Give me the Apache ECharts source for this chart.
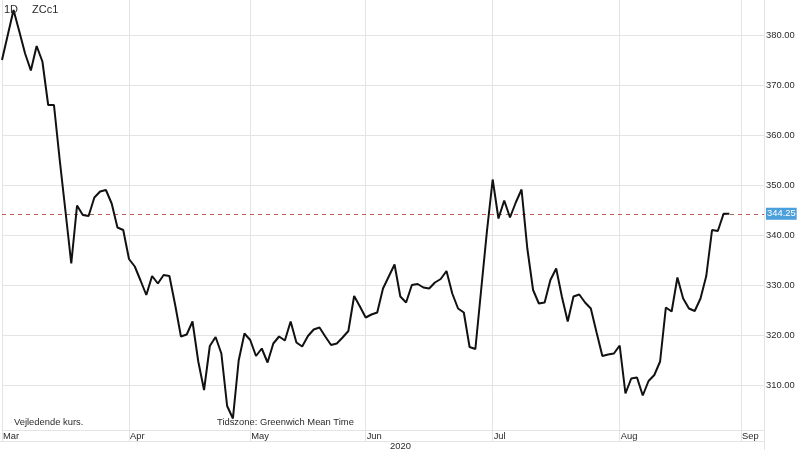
<!DOCTYPE html>
<html>
<head>
<meta charset="utf-8">
<script src="https://cdn.jsdelivr.net/npm/echarts@6/dist/echarts.min.js"></script>
<style>
html,body{margin:0;padding:0;background:#fff;}
#chart{width:800px;height:450px;}
</style>
</head>
<body>
<div id="chart"></div>
<script>
// ---- data ----
const periodLabel = '1D';
const symbolName = 'ZCc1';
const yearLabel = '2020';
const noteLeft = 'Vejledende kurs.';
const noteTimezone = 'Tidszone: Greenwich Mean Time';
const monthLabels = ['Jan','Feb','Mar','Apr','May','Jun','Jul','Aug','Sep','Oct','Nov','Dec'];
const firstTradingDay = '2020-03-02';
const tradingDayCount = 133;
const holidays = ['2020-04-10','2020-05-25','2020-07-03','2020-09-07'];
const lastPrice = 344.25;
const closes = [
  375.0, 380.0, 385.0, 380.7, 376.3, 372.9, 377.8, 374.7, 366.0, 366.0,
  355.0, 344.7, 334.3, 345.9, 344.0, 343.8, 347.5, 348.7, 349.0, 346.3,
  341.5, 341.0, 335.2, 333.7, 330.9, 328.0, 331.8, 330.3, 332.0, 331.8,
  326.0, 319.7, 320.1, 322.7, 314.7, 309.0, 317.8, 319.6, 316.3, 305.8,
  303.3, 314.9, 320.3, 319.0, 315.8, 317.3, 314.5, 318.3, 319.7, 318.9,
  322.7, 318.5, 317.7, 319.8, 321.1, 321.5, 319.7, 318.0, 318.3, 319.5,
  320.8, 327.8, 325.7, 323.5, 324.1, 324.5, 329.3, 331.7, 334.1, 327.7,
  326.5, 330.0, 330.2, 329.5, 329.3, 330.5, 331.2, 332.8, 328.3, 325.3,
  324.5, 317.6, 317.2, 329.0, 340.7, 351.1, 343.3, 346.9, 343.5, 346.5,
  349.1, 337.3, 329.0, 326.3, 326.5, 331.0, 333.3, 327.6, 322.7, 327.7,
  328.1, 326.5, 325.3, 320.5, 315.8, 316.1, 316.3, 317.9, 308.3, 311.3,
  311.5, 307.9, 310.8, 312.0, 314.7, 325.5, 324.7, 331.5, 327.3, 325.3,
  324.8, 327.3, 331.8, 341.0, 340.8, 344.25, 344.25
];

// ---- trading-day calendar (categories) ----
const dates = [];
(function () {
  const d = new Date(firstTradingDay + 'T00:00:00Z');
  while (dates.length < tradingDayCount) {
    const wd = d.getUTCDay();
    const s = d.toISOString().slice(0, 10);
    if (wd !== 0 && wd !== 6 && holidays.indexOf(s) < 0) dates.push(s);
    d.setUTCDate(d.getUTCDate() + 1);
  }
})();
const monthStart = new Set();
dates.forEach((s, i) => {
  if (i === 0 || s.slice(5, 7) !== dates[i - 1].slice(5, 7)) monthStart.add(i);
});
const isMonthStart = (i) => monthStart.has(i);

const FONT = "'Liberation Sans', Arial, Helvetica, sans-serif";
const GRID = '#e4e4e4';
const TXT = '#2a2a2a';
const FS = 9.4;

const chart = echarts.init(document.getElementById('chart'), null, {renderer: 'canvas'});
chart.setOption({
  animation: false,
  backgroundColor: '#fff',
  textStyle: {fontFamily: FONT},
  grid: {left: 0, right: 36, top: 0, bottom: 20, containLabel: false},
  xAxis: {
    type: 'category',
    data: dates,
    boundaryGap: false,
    axisLine: {show: true, lineStyle: {color: GRID, width: 1}},
    axisTick: {show: true, length: 11, interval: isMonthStart, lineStyle: {color: GRID}},
    axisLabel: {
      interval: isMonthStart,
      formatter: (v) => monthLabels[parseInt(v.slice(5, 7), 10) - 1],
      align: 'left',
      margin: 2,
      padding: [0, 0, 0, 1],
      fontSize: FS,
      color: TXT,
      fontFamily: FONT
    },
    splitLine: {show: true, interval: isMonthStart, lineStyle: {color: GRID, width: 1}}
  },
  yAxis: {
    type: 'value',
    position: 'right',
    min: 301,
    max: 387,
    splitNumber: 8,
    axisLine: {show: false},
    axisTick: {show: false},
    axisLabel: {
      margin: 2,
      fontSize: FS,
      color: TXT,
      fontFamily: FONT,
      formatter: (v) => (Math.abs(v % 10) < 1e-6 ? v.toFixed(2) : '')
    },
    splitLine: {show: true, showMinLine: false, showMaxLine: false, lineStyle: {color: GRID, width: 1}}
  },
  series: [{
    type: 'line',
    data: closes,
    symbol: 'none',
    showSymbol: false,
    lineStyle: {color: '#111', width: 2},
    itemStyle: {color: '#111'},
    z: 5,
    markLine: {
      silent: true,
      symbol: 'none',
      data: [{yAxis: lastPrice}],
      lineStyle: {color: '#b8605a', type: [4, 4], width: 1},
      label: {
        position: 'end',
        distance: 2,
        formatter: (p) => Number(p.value).toFixed(2),
        backgroundColor: '#4b9fdb',
        color: '#fff',
        padding: [2, 1, 1, 1],
        fontSize: FS,
        fontFamily: FONT
      }
    }
  }],
  graphic: [
    {type: 'text', left: 4, top: 4, style: {text: periodLabel, fontSize: 11, fill: TXT, fontFamily: FONT}, z: 20},
    {type: 'text', left: 32, top: 4, style: {text: symbolName, fontSize: 11, fill: TXT, fontFamily: FONT}, z: 20},
    {type: 'text', left: 14, top: 418, style: {text: noteLeft, fontSize: FS, fill: TXT, fontFamily: FONT}, z: 20},
    {type: 'text', left: 217, top: 418, style: {text: noteTimezone, fontSize: FS, fill: TXT, fontFamily: FONT}, z: 20},
    {type: 'text', left: 390, top: 442, style: {text: yearLabel, fontSize: FS, fill: TXT, fontFamily: FONT}, z: 20},
    {type: 'line', shape: {x1: 0, y1: 441.5, x2: 764, y2: 441.5}, style: {stroke: GRID, lineWidth: 1}, z: 1},
    {type: 'line', shape: {x1: 764.5, y1: 0, x2: 764.5, y2: 450}, style: {stroke: GRID, lineWidth: 1}, z: 1}
  ]
});
</script>
</body>
</html>
